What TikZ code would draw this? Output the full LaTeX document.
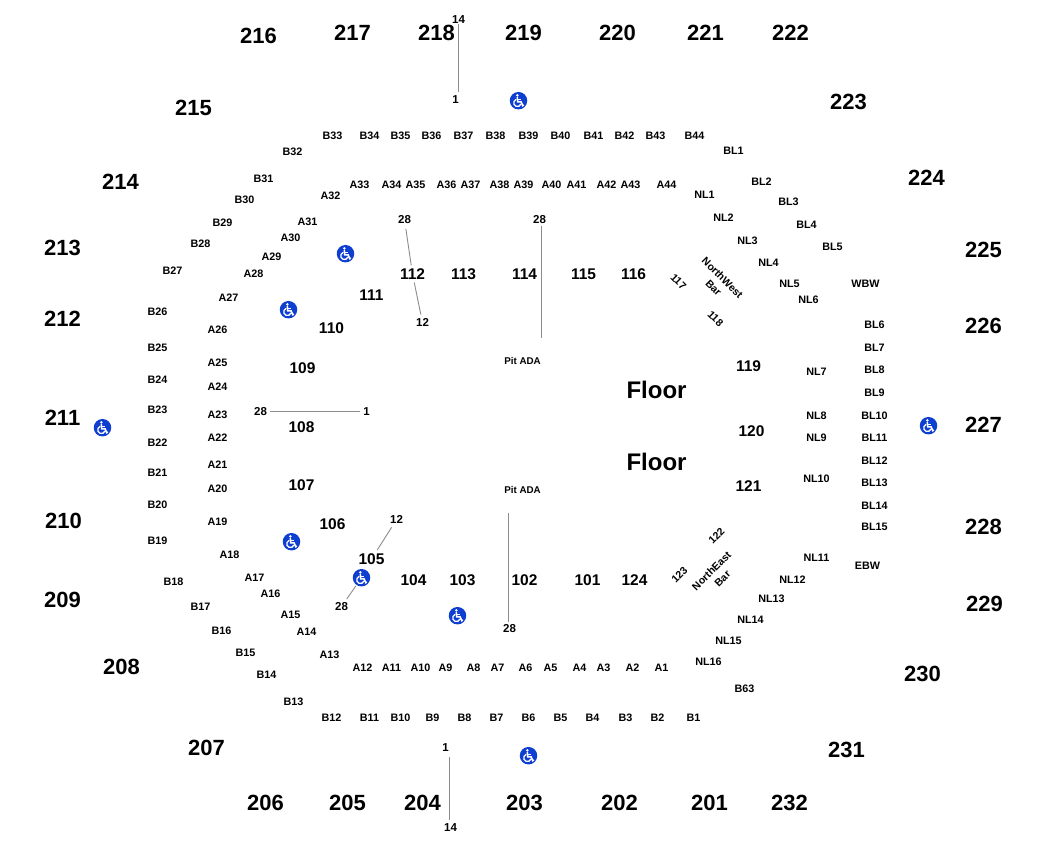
\documentclass[tikz,border=0pt]{standalone}
\usepackage{fontspec}
\setmainfont{Liberation Sans}
\definecolor{adablue}{HTML}{0F3FD0}
\definecolor{connector}{HTML}{8C8C8C}
\tikzset{
  x=1pt,y=-1pt,
  upper/.style={font=\fontsize{22}{24}\selectfont\bfseries,inner sep=0pt,yshift=0.7pt},
  lower/.style={font=\fontsize{15.5}{17}\selectfont\bfseries,inner sep=0pt,yshift=0.7pt},
  seat/.style={font=\fontsize{10.8}{12}\selectfont\bfseries,inner sep=0pt},
  rownum/.style={font=\fontsize{11.5}{12}\selectfont\bfseries,inner sep=0pt},
  pitlabel/.style={font=\fontsize{9.8}{11}\selectfont\bfseries,inner sep=0pt},
  tiny/.style={font=\fontsize{10.5}{12}\selectfont\bfseries,inner sep=0pt},
  floorlabel/.style={font=\fontsize{24}{26}\selectfont\bfseries,inner sep=0pt,yshift=0.7pt},
  link/.style={draw=connector,line width=0.9pt},
  adadisc/.style={circle,fill=adablue,minimum size=17.5pt,inner sep=0pt},
}
\newcommand{\adaicon}[3]{%
  \node[adadisc] (#1) at (#2,#3) {};
  \begin{scope}[shift={(#2,#3)}]
    \fill[white] (-1.2,-5.3) circle (1.4);
    \draw[white,line width=1.6pt] (-1.2,-3.6) -- (-0.8,1.2) -- (2.6,1.2) -- (4.2,5) -- (5.4,4.4);
    \draw[white,line width=1.1pt] (-0.9,-1.2) -- (2.6,-1.2);
    \draw[white,line width=1.3pt] (2.4,3.4) arc[start angle=-20,end angle=-250,x radius=3.7,y radius=-3.7];
  \end{scope}}
\begin{document}
\begin{tikzpicture}
\useasboundingbox (0,0) rectangle (1050,850);
\fill[white] (0,0) rectangle (1050,850);
\begin{scope}[shift={(0.5,0.7)}]
% upper sections
\foreach \x/\y/\t in {258/36/216,352/33/217,436/33/218,523/33/219,617/33/220,705/33/221,790/33/222,193/108/215,848/102/223,120/182/214,926/178/224,62/248/213,983/250/225,62/319/212,983/326/226,62/418/211,983/425/227,63/521/210,983/527/228,62/600/209,984/604/229,121/667/208,922/674/230,206/748/207,846/750/231,265/803/206,347/803/205,422/803/204,524/803/203,619/803/202,709/803/201,789/803/232}
  \node[upper] (u\t) at (\x,\y) {\t};
% lower sections
\foreach \x/\y/\t in {412/274/112,463/274/113,524/274/114,583/274/115,633/274/116,371/295/111,331/328/110,302/368/109,301/427/108,301/485/107,332/524/106,371/559/105,413/580/104,462/580/103,524/580/102,587/580/101,634/580/124,748/366/119,751/431/120,748/486/121}
  \node[lower] (l\t) at (\x,\y) {\t};
% seat labels
\foreach \x/\y/\t in {332/135/B33,369/135/B34,400/135/B35,431/135/B36,463/135/B37,495/135/B38,528/135/B39,560/135/B40,593/135/B41,624/135/B42,655/135/B43,694/135/B44,733/150/BL1,292/151/B32,263/178/B31,244/199/B30,222/222/B29,200/243/B28,172/270/B27,157/311/B26,157/347/B25,157/379/B24,157/409/B23,157/442/B22,157/472/B21,157/504/B20,157/540/B19,173/581/B18,200/606/B17,221/630/B16,245/652/B15,266/674/B14,293/701/B13,331/717/B12,369/717/B11,400/717/B10,432/717/B9,464/717/B8,496/717/B7,528/717/B6,560/717/B5,592/717/B4,625/717/B3,657/717/B2,693/717/B1,744/688/B63,
359/184/A33,391/184/A34,415/184/A35,446/184/A36,470/184/A37,499/184/A38,523/184/A39,551/184/A40,576/184/A41,606/184/A42,630/184/A43,666/184/A44,330/195/A32,307/221/A31,290/237/A30,271/256/A29,253/273/A28,228/297/A27,217/329/A26,217/362/A25,217/386/A24,217/414/A23,217/437/A22,217/464/A21,217/488/A20,217/521/A19,229/554/A18,254/577/A17,270/593/A16,290/614/A15,306/631/A14,329/654/A13,362/667/A12,391/667/A11,420/667/A10,445/667/A9,473/667/A8,497/667/A7,525/667/A6,550/667/A5,579/667/A4,603/667/A3,632/667/A2,661/667/A1,
704/194/NL1,723/217/NL2,747/240/NL3,768/262/NL4,789/283/NL5,808/299/NL6,816/371/NL7,816/415/NL8,816/437/NL9,816/478/NL10,816/557/NL11,792/579/NL12,771/598/NL13,750/619/NL14,728/640/NL15,708/661/NL16,
761/181/BL2,788/201/BL3,806/224/BL4,832/246/BL5,865/283/WBW,874/324/BL6,874/347/BL7,874/369/BL8,874/392/BL9,874/415/BL10,874/437/BL11,874/460/BL12,874/482/BL13,874/505/BL14,874/526/BL15,867/565/EBW}
  \node[seat] (s\t) at (\x,\y) {\t};
% rotated labels
\node[tiny,rotate=-45] (r117) at (678,281) {117};
\node[tiny,rotate=-45] (r118) at (715,318) {118};
\node[tiny,rotate=-45] (rNW) at (722,277) {NorthWest};
\node[tiny,rotate=-45] (rNWb) at (713,287) {Bar};
\node[tiny,rotate=45] (r122) at (716,535) {122};
\node[tiny,rotate=45] (r123) at (679,574) {123};
\node[tiny,rotate=45] (rNE) at (711,570) {NorthEast};
\node[tiny,rotate=45] (rNEb) at (722,578) {Bar};
% floor
\node[floorlabel] (floorA) at (656,390) {Floor};
\node[floorlabel] (floorB) at (656,462) {Floor};
% row numbers
\node[rownum] (a14) at (458,19) {14};
\node[rownum] (a1) at (455,99) {1};
\node[rownum] (b28) at (404,219) {28};
\node[rownum] (b12) at (422,322) {12};
\node[rownum] (c28) at (539,219) {28};
\node[pitlabel] (pit1) at (522,360) {Pit ADA};
\node[rownum] (d28) at (260,411) {28};
\node[rownum] (d1) at (366,411) {1};
\node[rownum] (e12) at (396,519) {12};
\node[rownum] (e28) at (341,606) {28};
\node[pitlabel] (pit2) at (522,489) {Pit ADA};
\node[rownum] (f28) at (509,628) {28};
\node[rownum] (g1) at (445,747) {1};
\node[rownum] (g14) at (450,827) {14};
% accessibility icons
\adaicon{ada1}{518}{100}
\adaicon{ada2}{345}{253}
\adaicon{ada3}{288}{309}
\adaicon{ada4}{102}{427}
\adaicon{ada5}{928}{425}
\adaicon{ada6}{291}{541}
\adaicon{ada7}{361}{577}
\adaicon{ada8}{457}{615}
\adaicon{ada9}{528}{755}
\end{scope}
% connectors
\coordinate (a14s) at (458,24);
\coordinate (a1n) at (458,92);
\draw[link] (a14s) -- (a1n);
\draw[link,shorten <=5pt,shorten >=3pt] (b28) -- (l112);
\draw[link,shorten <=3pt,shorten >=4pt] (l112) -- (b12);
\coordinate (c28s) at (541,226);
\coordinate (pit1n) at (541,338);
\draw[link] (c28s) -- (pit1n);
\draw[link,shorten <=3pt,shorten >=3pt] (d28) -- (d1);
\draw[link,shorten <=4pt,shorten >=4pt] (e12) -- (l105);
\draw[link,shorten <=1pt,shorten >=4pt] (ada7) -- (e28);
\coordinate (pit2s) at (508,513);
\coordinate (f28n) at (508,622);
\draw[link] (pit2s) -- (f28n);
\coordinate (g1s) at (449,757);
\coordinate (g14n) at (449,820);
\draw[link] (g1s) -- (g14n);
\end{tikzpicture}
\end{document}
